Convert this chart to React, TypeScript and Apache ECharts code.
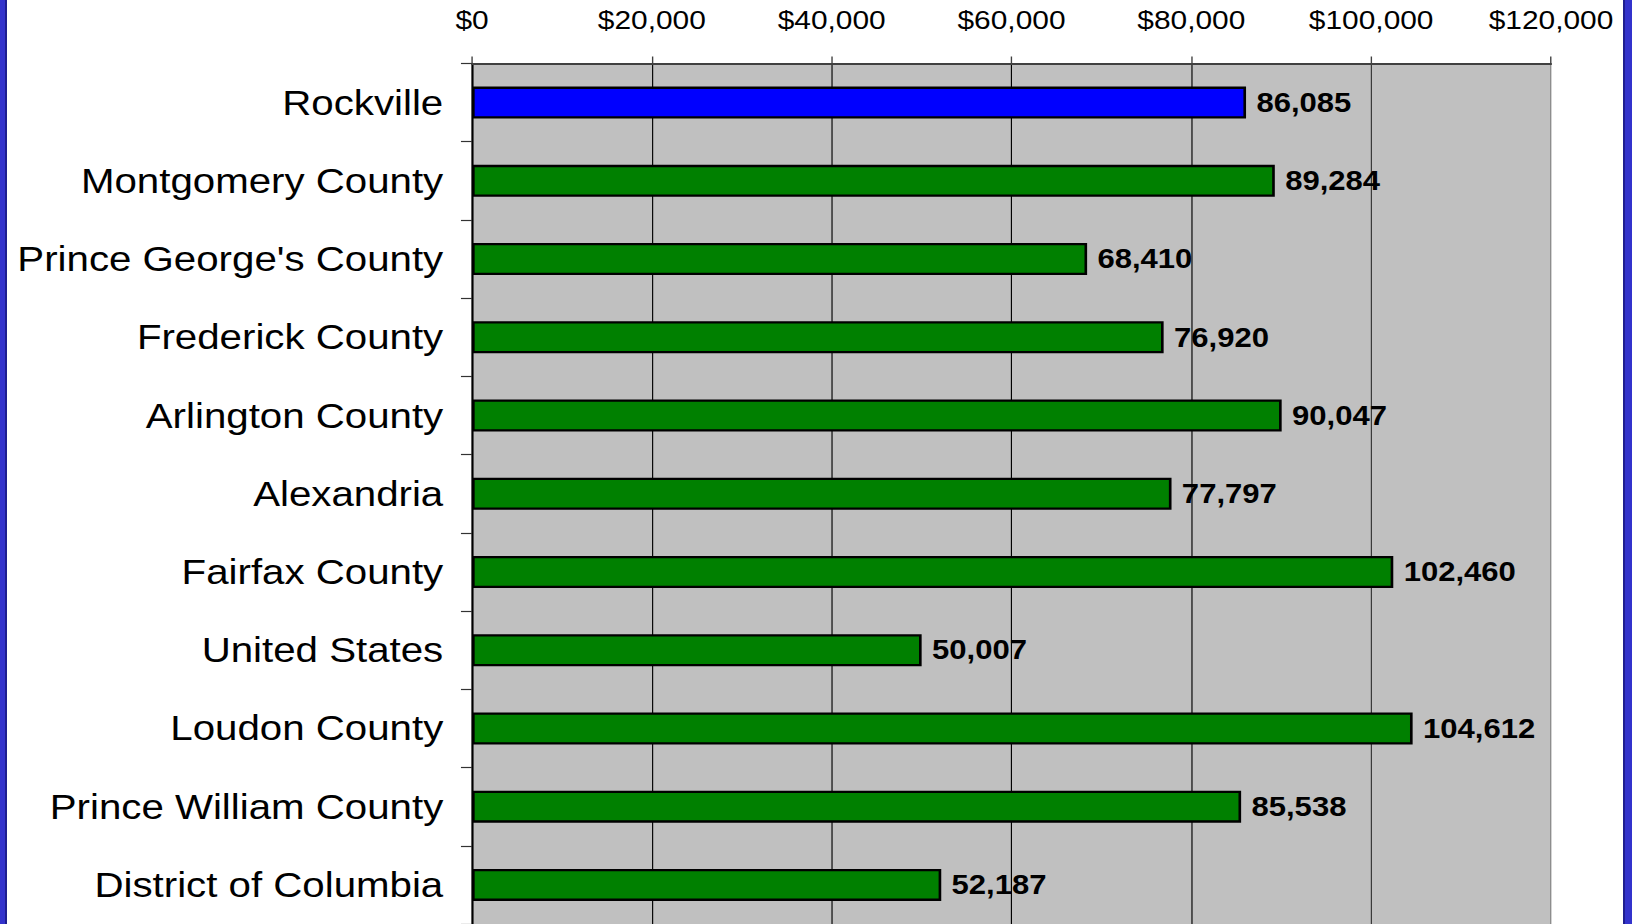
import React, { useEffect, useRef } from "react";
import * as echarts from "echarts";

const categories = [
  "Rockville",
  "Montgomery County",
  "Prince George's County",
  "Frederick County",
  "Arlington County",
  "Alexandria",
  "Fairfax County",
  "United States",
  "Loudon County",
  "Prince William County",
  "District of Columbia",
];
const values = [86085, 89284, 68410, 76920, 90047, 77797, 102460, 50007, 104612, 85538, 52187];
const highlight = ["Rockville"];
const axisMin = 0;
const axisMax = 120000;
const axisStep = 20000;

const SX = 1.15;
const W = 1632;
const H = 924;
const WU = W / SX;

export default function App() {
  const ref = useRef<HTMLDivElement>(null);
  useEffect(() => {
    const chart = echarts.init(ref.current!, null, { renderer: "svg" });
    const font = "'Liberation Sans', Arial, sans-serif";
    const plotLeft = 472 / SX;
    const plotRight = 1551 / SX;
    chart.setOption({
      animation: false,
      backgroundColor: "#ffffff",
      grid: {
        show: true,
        backgroundColor: "#C0C0C0",
        borderWidth: 0,
        left: plotLeft,
        width: plotRight - plotLeft,
        top: 63.5,
        height: 861.5,
        containLabel: false,
      },
      xAxis: {
        type: "value",
        position: "top",
        min: axisMin,
        max: axisMax,
        interval: axisStep,
        axisLine: { show: true, lineStyle: { color: "#404040", width: 2 } },
        axisTick: { show: true, inside: false, length: 7, lineStyle: { color: "#404040", width: 1.2 } },
        axisLabel: {
          fontFamily: font,
          fontSize: 26,
          color: "#000",
          margin: 30,
          formatter: (v: number) => "$" + v.toLocaleString("en-US"),
        },
        splitLine: {
          show: true,
          lineStyle: {
            color: ["#000", "#000", "#000", "#000", "#000", "#333", "#808080"],
            width: 1,
          },
        },
      },
      yAxis: {
        type: "category",
        data: categories,
        inverse: true,
        axisLine: { show: true, lineStyle: { color: "#000", width: 1.6 } },
        axisTick: { show: true, inside: false, length: 9.6, lineStyle: { color: "#333", width: 1.2 } },
        axisLabel: {
          fontFamily: font,
          fontSize: 35,
          color: "#000",
          margin: 25,
        },
        splitLine: { show: false },
      },
      series: [
        {
          type: "bar",
          barWidth: 32,
          data: values.map((v, i) => ({
            value: v,
            itemStyle: {
              color: highlight.includes(categories[i]) ? "#0000FF" : "#008000",
              borderColor: "#000",
              borderWidth: 2.3,
            },
          })),
          label: {
            show: true,
            position: "right",
            distance: 9,
            fontFamily: font,
            fontWeight: "bold",
            fontSize: 27,
            color: "#000",
            formatter: (p: any) => Number(p.value).toLocaleString("en-US"),
          },
        },
      ],
    });
    return () => chart.dispose();
  }, []);

  return (
    <div
      style={{
        position: "fixed",
        left: 0,
        top: 0,
        width: W,
        height: H,
        overflow: "hidden",
        background: "#fff",
      }}
    >
      <div
        ref={ref}
        style={{
          width: WU,
          height: H,
          transform: `scaleX(${SX})`,
          transformOrigin: "0 0",
        }}
      />
      <div style={{ position: "absolute", left: 0, top: 0, width: 5, height: H, background: "#3333CC" }} />
      <div style={{ position: "absolute", left: 5, top: 0, width: 2, height: H, background: "#1E1E90" }} />
      <div style={{ position: "absolute", left: 1623, top: 0, width: 2, height: H, background: "#1E1E90" }} />
      <div style={{ position: "absolute", left: 1625, top: 0, width: 7, height: H, background: "#3333CC" }} />
    </div>
  );
}
